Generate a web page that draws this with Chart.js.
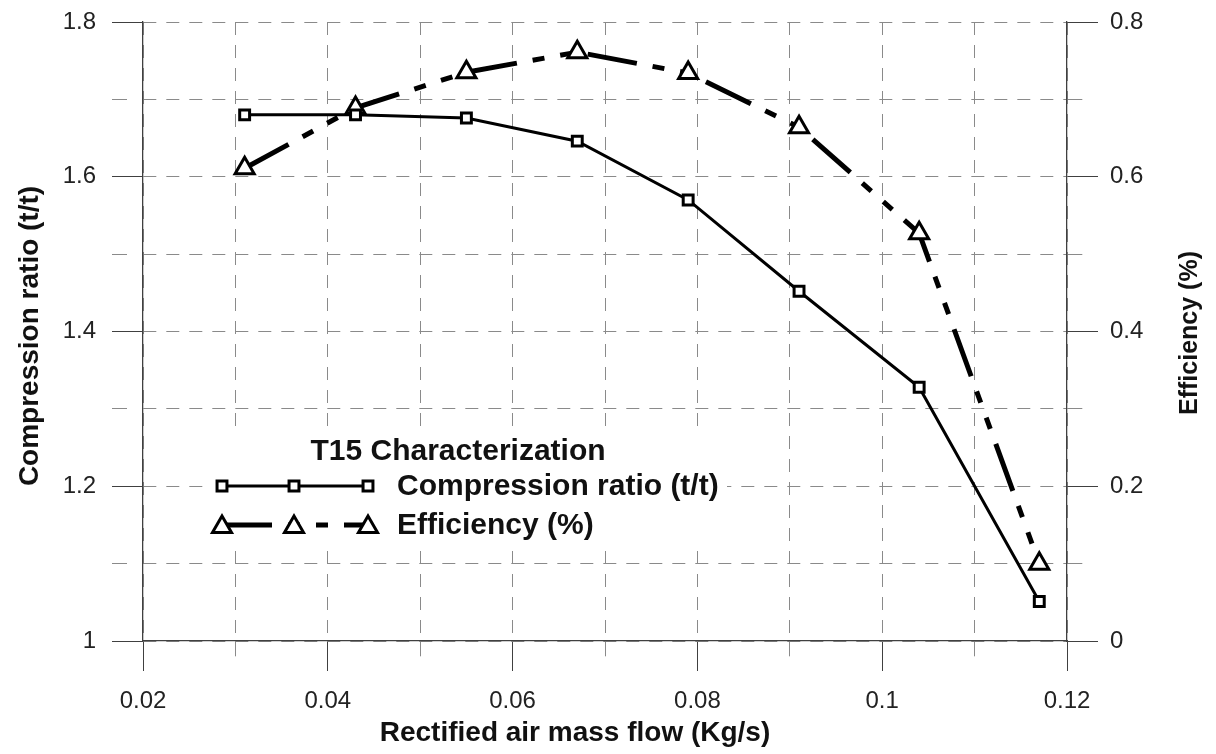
<!DOCTYPE html>
<html>
<head>
<meta charset="utf-8">
<script src="https://cdn.jsdelivr.net/npm/chart.js@4.4.0/dist/chart.umd.min.js"></script>
<style>
  html, body { margin: 0; padding: 0; background: #fff; }
  #wrap { width: 1216px; height: 754px; }
</style>
</head>
<body>
<div id="wrap"><canvas id="t15Chart" width="1216" height="754"></canvas></div>
<script>
/* ---- data ---- */
var massFlow = [0.031, 0.043, 0.055, 0.067, 0.079, 0.091, 0.104, 0.117];
var compressionRatio = [1.680, 1.680, 1.676, 1.646, 1.570, 1.452, 1.328, 1.051];
var efficiency = [0.611, 0.689, 0.735, 0.761, 0.734, 0.664, 0.527, 0.100];

var legendTitle = 'T15 Characterization';
var seriesNames = ['Compression ratio (t/t)', 'Efficiency (%)'];
var xTitle = 'Rectified air mass flow (Kg/s)';

var FONT = "'Liberation Sans', Arial, sans-serif";
var gridGray = '#8a8a8a';
var axisGray = '#404040';
var effDash = [50, 16, 12, 16, 12, 16];

Chart.defaults.font.family = FONT;
Chart.defaults.color = '#222';

function pairs(xs, ys) {
  return xs.map(function (x, i) { return { x: x, y: ys[i] }; });
}

// even steps get a solid long tick, odd steps a short dashed one
function isMajor(v, step) {
  return Math.round(v / step) % 2 === 0;
}

function tri(ctx, x, y, r) {
  ctx.beginPath();
  ctx.moveTo(x, y - r);
  ctx.lineTo(x + 0.866 * r, y + 0.5 * r);
  ctx.lineTo(x - 0.866 * r, y + 0.5 * r);
  ctx.closePath();
  ctx.fill();
  ctx.stroke();
}

function sq(ctx, x, y, r) {
  var s = Math.SQRT1_2 * r;
  ctx.beginPath();
  ctx.rect(x - s, y - s, 2 * s, 2 * s);
  ctx.fill();
  ctx.stroke();
}

/* ---- legend box + axis titles drawn by hand ---- */
var extras = {
  id: 'extras',
  afterDraw: function (chart) {
    var ctx = chart.ctx;
    ctx.save();

    // legend
    ctx.fillStyle = '#fff';
    ctx.fillRect(205, 432, 522, 114);
    ctx.fillStyle = '#111';
    ctx.font = 'bold 30px ' + FONT;
    ctx.textAlign = 'center';
    ctx.textBaseline = 'middle';
    ctx.fillText(legendTitle, 458, 452);

    ctx.strokeStyle = '#000';
    ctx.lineWidth = 3;
    ctx.beginPath(); ctx.moveTo(222, 486); ctx.lineTo(368, 486); ctx.stroke();
    ctx.lineWidth = 5;
    ctx.setLineDash(effDash);
    ctx.beginPath(); ctx.moveTo(222, 525); ctx.lineTo(368, 525); ctx.stroke();
    ctx.setLineDash([]);
    ctx.lineWidth = 3;
    ctx.fillStyle = '#fff';
    [222, 294, 368].forEach(function (x) {
      sq(ctx, x, 486, 7);
      tri(ctx, x, 527, 11);
    });

    ctx.fillStyle = '#111';
    ctx.textAlign = 'left';
    ctx.fillText(seriesNames[0], 397, 487);
    ctx.fillText(seriesNames[1], 397, 526);

    // axis titles
    ctx.textAlign = 'center';
    ctx.font = 'bold 28px ' + FONT;
    ctx.fillText(xTitle, 575, 733);

    ctx.save();
    ctx.translate(30, 336);
    ctx.rotate(-Math.PI / 2);
    ctx.fillText(seriesNames[0], 0, 0);
    ctx.restore();

    ctx.save();
    ctx.translate(1190, 333);
    ctx.rotate(-Math.PI / 2);
    ctx.font = 'bold 25px ' + FONT;
    ctx.fillText(seriesNames[1], 0, 0);
    ctx.restore();

    ctx.restore();
  }
};

function gridOpts(step, solidLen, onArea) {
  return {
    color: gridGray,
    lineWidth: 1,
    drawOnChartArea: onArea,
    tickLength: solidLen,
    tickWidth: 1,
    tickColor: function (c) { return isMajor(c.tick.value, step) ? axisGray : gridGray; },
    tickBorderDash: function (c) { return isMajor(c.tick.value, step) ? [] : [15, 60]; }
  };
}

// fix the axis box so the plot area lands where the original one is
function fixWidth(w) {
  return function (s) { s.width = w; s.paddingTop = 0; s.paddingBottom = 0; };
}

var ctx = document.getElementById('t15Chart').getContext('2d');
var t15Chart = new Chart(ctx, {
  type: 'scatter',
  data: {
    datasets: [{
      label: seriesNames[0],
      data: pairs(massFlow, compressionRatio),
      showLine: true,
      borderColor: '#000',
      borderWidth: 3,
      pointStyle: 'rect',
      pointRadius: 7,
      pointBorderWidth: 3,
      pointBorderColor: '#000',
      pointBackgroundColor: '#fff',
      yAxisID: 'y'
    }, {
      label: seriesNames[1],
      data: pairs(massFlow, efficiency),
      showLine: true,
      borderColor: '#000',
      borderWidth: 5,
      borderDash: effDash,
      pointStyle: 'triangle',
      pointRadius: 11,
      pointBorderWidth: 3,
      pointBorderColor: '#000',
      pointBackgroundColor: '#fff',
      yAxisID: 'y2'
    }]
  },
  options: {
    responsive: false,
    animation: false,
    layout: { padding: { top: 22, left: 0, right: 0, bottom: 0 } },
    plugins: { legend: { display: false }, tooltip: { enabled: false } },
    scales: {
      x: {
        type: 'linear',
        position: 'bottom',
        min: 0.02, max: 0.12,
        afterFit: function (s) { s.height = 113; s.paddingLeft = 0; s.paddingRight = 0; },
        ticks: {
          stepSize: 0.01,
          autoSkip: false,
          maxRotation: 0,
          padding: 16,
          font: { size: 24 },
          callback: function (v) { return isMajor(v, 0.01) ? String(Number(v.toFixed(2))) : ''; }
        },
        grid: gridOpts(0.01, 30, true),
        border: { display: true, color: axisGray, width: 1.3, dash: [13, 10] }
      },
      y: {
        type: 'linear',
        position: 'left',
        min: 1, max: 1.8,
        afterFit: fixWidth(143),
        ticks: {
          stepSize: 0.1,
          autoSkip: false,
          padding: 16,
          font: { size: 24 },
          callback: function (v) { return isMajor(v, 0.1) ? String(Number(v.toFixed(1))) : ''; }
        },
        grid: gridOpts(0.1, 31, true),
        border: { display: true, color: axisGray, width: 1.3, dash: [13, 10] }
      },
      y2: {
        type: 'linear',
        position: 'right',
        min: 0, max: 0.8,
        afterFit: fixWidth(149),
        ticks: {
          stepSize: 0.1,
          autoSkip: false,
          padding: 12,
          font: { size: 24 },
          callback: function (v) { return isMajor(v, 0.1) ? String(Number(v.toFixed(1))) : ''; }
        },
        grid: gridOpts(0.1, 31, false),
        border: { display: true, color: axisGray, width: 1.3 }
      }
    }
  },
  plugins: [extras]
});
</script>
</body>
</html>
